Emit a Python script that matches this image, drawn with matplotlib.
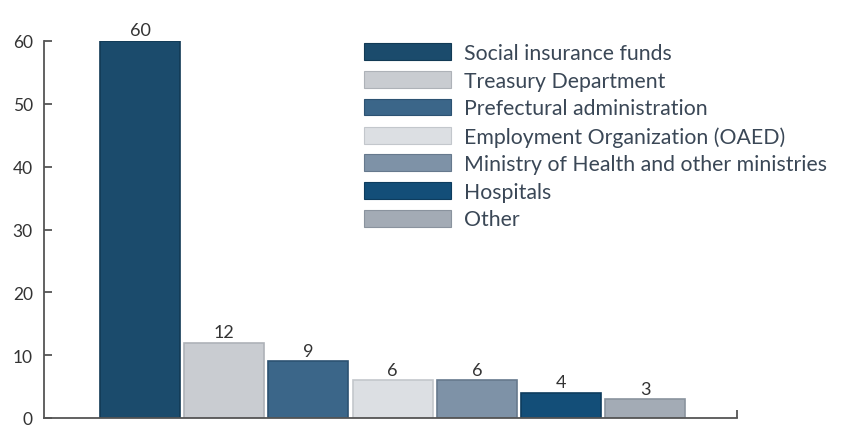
import matplotlib.pyplot as plt
from matplotlib.patches import Patch

plt.rcParams['font.family'] = ['Lato', 'DejaVu Sans']

# Sources of health financing (%)
sources = ["Social insurance funds", "Treasury Department", "Prefectural administration",
           "Employment Organization (OAED)", "Ministry of Health and other ministries",
           "Hospitals", "Other"]
shares = [60, 12, 9, 6, 6, 4, 3]
colors = ["#1b4b6c", "#c9ccd1", "#3b6689", "#dcdfe3", "#7e92a7", "#134e78", "#a3abb5"]
edges = ["#123a55", "#aeb2b8", "#2c5272", "#c3c7cc", "#66798d", "#0d3c5e", "#8a939e"]

fig = plt.figure(figsize=(8.41, 4.31), dpi=100)
ax = fig.add_axes([44 / 841, 12 / 431, (737 - 44) / 841, 377 / 431])

x = range(len(shares))
ax.bar(x, shares, width=0.95, color=colors, edgecolor=edges, linewidth=1.2)

for xi, v in zip(x, shares):
    ax.text(xi, v + 0.4, str(v), ha='center', va='bottom', fontsize=13,
            color='#333333', clip_on=False)

ax.set_xlim(-1.14, 7.09)
ax.set_ylim(0, 60)
ax.set_yticks(range(0, 61, 10))
ax.set_xticks([7.09])
ax.set_xticklabels([])

for s in ['top', 'right']:
    ax.spines[s].set_visible(False)
for s in ['left', 'bottom']:
    ax.spines[s].set_color('#555555')
    ax.spines[s].set_linewidth(1.3)
ax.tick_params(axis='y', direction='in', length=6, width=1.3, color='#555555',
               labelsize=12.5, labelcolor='#333333', pad=8)
ax.tick_params(axis='x', direction='in', length=6, width=1.3, color='#555555')

handles = [Patch(facecolor=c, edgecolor=e, linewidth=0.8) for c, e in zip(colors, edges)]
fig.legend(handles, sources, loc='upper left', bbox_to_anchor=(364 / 841, 1 - 44 / 431),
           frameon=False, fontsize=15.3, handlelength=4.1, handleheight=0.84,
           handletextpad=0.6, labelspacing=0.36, borderpad=0, borderaxespad=0,
           labelcolor='#3a4756')

fig.savefig("out.png", dpi=100)
